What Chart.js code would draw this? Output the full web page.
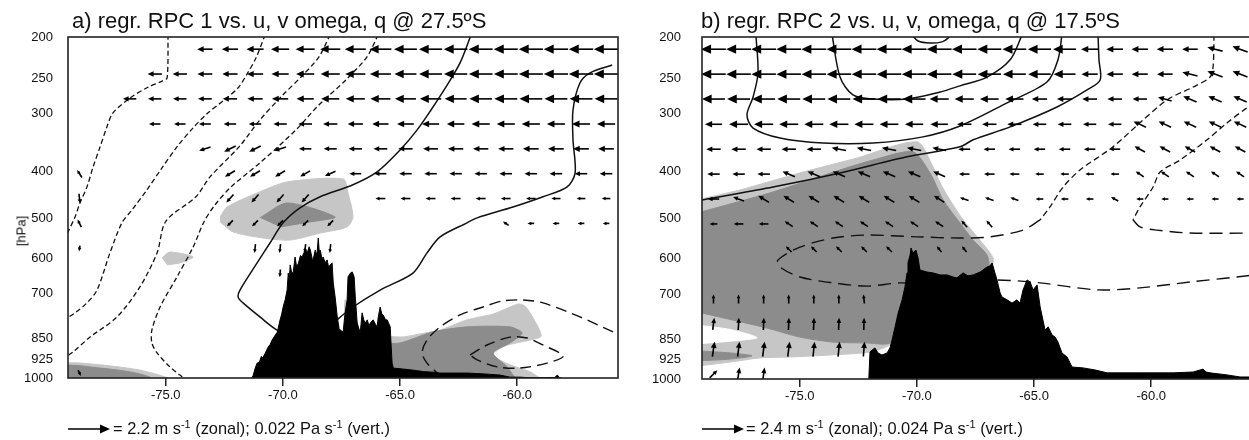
<!DOCTYPE html>
<html><head><meta charset="utf-8">
<script src="https://cdn.jsdelivr.net/npm/chart.js@4.4.1/dist/chart.umd.min.js"></script>
<style>
html,body{margin:0;padding:0;width:1249px;height:440px;overflow:hidden;background:#fff;}
canvas{position:absolute;top:0;}
.t{position:absolute;white-space:nowrap;color:#111;font-family:"Liberation Sans",Arial,sans-serif;}
.title{top:10px;font-size:22px;line-height:22px;}
.leg{top:420px;font-size:16.4px;line-height:16px;}
.sup{font-size:11px;position:relative;top:-6px;}
.hpa{font-size:13px;left:21px;top:231px;transform:translate(-50%,-50%) rotate(-90deg);}
</style></head><body>
<canvas id="ca" width="630" height="440" style="left:0px"></canvas>
<canvas id="cb" width="630" height="440" style="left:634px"></canvas>
<div class="t title" style="left:72px">a) regr. RPC 1 vs. u, v omega, q @ 27.5ºS</div>
<div class="t title" style="left:701px">b) regr. RPC 2 vs. u, v, omega, q @ 17.5ºS</div>
<div class="t hpa">[hPa]</div>
<div class="t leg" style="left:113px">= 2.2 m s<span class="sup">-1</span> (zonal); 0.022 Pa s<span class="sup">-1</span> (vert.)</div>
<div class="t leg" style="left:746px">= 2.4 m s<span class="sup">-1</span> (zonal); 0.024 Pa s<span class="sup">-1</span> (vert.)</div>
<script>
// ---------- axes ----------
const pLevels = [200,250,300,400,500,600,700,850,925,1000];
const lonTicks = [-75,-70,-65,-60];
const LON_MIN = -79.17, LON_MAX = -55.70;
function hFromP(p){ return 44.33*(1-Math.pow(p/1013.25,0.1903)); } // std-atmosphere height (km)

// ---------- vector grid (shared) ----------
const vecCols = [-78.68,-77.61,-76.54,-75.47,-74.40,-73.33,-72.26,-71.19,-70.12,-69.05,-67.98,-66.91,-65.84,-64.77,-63.70,-62.63,-61.56,-60.49,-59.42,-58.35,-57.28,-56.21];
const vecRowsKm = [11.36,10.51,9.66,8.80,7.95,7.10,6.25,5.40,4.54,3.69,2.84,1.99,1.13,0.28];
const N = null;

// panel a: zonal wind (m/s) and omega (Pa/s)
const uA = [
[N,N,N,N,N,-0.80,-0.85,-0.90,-0.95,-1.00,-1.05,-1.10,-1.15,-1.20,-1.22,-1.24,-1.25,-1.26,-1.27,-1.28,-1.28,-1.28],
[N,N,N,-0.75,-0.75,-0.78,-0.80,-0.85,-0.90,-0.95,-1.00,-1.05,-1.10,-1.15,-1.20,-1.22,-1.24,-1.25,-1.26,-1.27,-1.28,-1.28],
[N,N,-0.70,-0.70,-0.70,-0.72,-0.75,-0.80,-0.85,-0.90,-0.95,-1.00,-1.05,-1.10,-1.12,-1.15,-1.18,-1.20,-1.20,-1.20,-1.20,-1.20],
[N,N,N,-0.60,-0.60,-0.62,-0.65,-0.65,-0.70,-0.72,-0.75,-0.80,-0.85,-0.88,-0.90,-0.92,-0.95,-0.95,-0.95,-0.95,-0.95,-0.95],
[N,N,N,N,N,-0.60,-0.60,-0.60,-0.62,-0.65,-0.68,-0.70,-0.72,-0.75,-0.78,-0.80,-0.80,-0.80,-0.82,-0.82,-0.82,-0.82],
[-0.25,N,N,N,N,N,-0.52,-0.52,-0.52,-0.52,-0.55,-0.62,-0.63,-0.65,-0.65,-0.65,-0.65,-0.66,-0.66,-0.66,-0.66,-0.66],
[0.05,N,N,N,N,N,-0.37,-0.37,-0.37,-0.37,N,N,-0.52,-0.52,-0.52,-0.52,-0.52,-0.50,-0.50,-0.48,-0.46,-0.45],
[-0.20,N,N,N,N,N,-0.31,-0.31,-0.31,-0.31,-0.31,N,N,N,N,N,N,-0.30,-0.35,-0.35,-0.35,-0.35],
[-0.05,N,N,N,N,N,N,-0.05,-0.05,-0.05,-0.05,N,N,N,N,N,N,N,N,N,N,N],
[N,N,N,N,N,N,N,N,-0.03,N,N,N,N,N,N,N,N,N,N,N,N,N],
[N,N,N,N,N,N,N,N,N,N,N,N,N,N,N,N,N,N,N,N,N,N],
[N,N,N,N,N,N,N,N,N,N,N,N,N,N,N,N,N,N,N,N,N,N],
[N,N,N,N,N,N,N,N,N,N,N,N,N,N,N,N,N,N,N,N,N,N],
[0.15,N,N,N,N,N,N,N,N,N,N,N,N,N,N,N,N,N,N,N,N,N]];
const wA = [
[0,0,0,0,0,0,0,0,0,0,0,0,0,0,0,0,0,0,0,0,0,0],
[0,0,0,0,0,0,0,0,0,0,0,0,0,0,0,0,0,0,0,0,0,0],
[0,0,0,0,0,0,0,0,0,0,0,0,0,0,0,0,0,0,0,0,0,0],
[0,0,0,0,0,0,0,0,0,0,0,0,0,0,0,0,0,0,0,0,0,0],
[0,0,0,0,0,0.002,0.003,0.003,0.002,0,0,0,0,0,0,0,0,0,0,0,0,0],
[-0.004,0,0,0,0,0,0.0031,0.0031,0.0031,0.003,0.0025,0,0,0,0,0,0,0,0,0,0,0],
[0.005,0,0,0,0,0,0.0042,0.0042,0.0042,0.0042,0,0,0,0,0,0,0,0,0,0,0,0],
[-0.004,0,0,0,0,0,0.0031,0.0031,0.0031,0.0031,0.0031,0,0,0,0,0,0,-0.002,0,0,0,0],
[0.003,0,0,0,0,0,0,0.0047,0.0047,0.0047,0.0047,0,0,0,0,0,0,0,0,0,0,0],
[0,0,0,0,0,0,0,0,0.004,0,0,0,0,0,0,0,0,0,0,0,0,0],
[0,0,0,0,0,0,0,0,0,0,0,0,0,0,0,0,0,0,0,0,0,0],
[0,0,0,0,0,0,0,0,0,0,0,0,0,0,0,0,0,0,0,0,0,0],
[0,0,0,0,0,0,0,0,0,0,0,0,0,0,0,0,0,0,0,0,0,0],
[0.003,0,0,0,0,0,0,0,0,0,0,0,0,0,0,0,0,0,0,0,0,0]];

// panel b
const uB = [
[-1.42,-1.42,-1.42,-1.42,-1.42,-1.42,-1.42,-1.42,-1.42,-1.42,-1.40,-1.37,-1.36,-1.33,-1.31,-0.98,-0.96,-0.94,-0.93,-0.89,-0.87,-0.87],
[-1.40,-1.40,-1.40,-1.40,-1.40,-1.40,-1.40,-1.40,-1.40,-1.40,-1.36,-1.33,-1.31,-1.29,-1.25,-0.93,-0.93,-0.92,-0.89,-0.87,-0.87,-0.85],
[-1.31,-1.31,-1.31,-1.31,-1.31,-1.31,-1.31,-1.31,-1.31,-1.09,-1.09,-1.07,-1.04,-0.87,-0.87,-0.85,-0.83,-0.82,-0.78,-0.76,-0.76,-0.76],
[-0.98,-1.09,-1.09,-1.09,-1.09,-1.09,-1.09,-1.07,-1.04,-1.00,-0.82,-0.82,-0.81,-0.78,-0.78,-0.76,-0.76,-0.71,-0.71,-0.71,-0.71,-0.71],
[-0.82,-0.82,-0.82,-0.82,-0.82,-0.82,-0.82,-0.82,-0.82,-0.78,-0.68,-0.65,-0.65,-0.65,-0.65,-0.65,-0.63,-0.60,-0.60,-0.60,-0.60,-0.60],
[-0.71,-0.71,-0.71,-0.71,-0.71,-0.71,-0.71,-0.71,-0.71,-0.68,-0.60,-0.60,-0.57,-0.49,-0.49,-0.49,-0.49,-0.46,-0.46,-0.46,-0.46,-0.46],
[-0.65,-0.63,-0.61,-0.61,-0.61,-0.61,-0.61,-0.61,-0.61,-0.59,-0.49,-0.49,-0.46,-0.44,-0.44,-0.44,-0.41,-0.41,-0.41,-0.41,-0.41,-0.41],
[-0.44,-0.55,-0.55,-0.46,-0.46,-0.46,-0.46,-0.46,-0.46,-0.46,-0.33,-0.33,N,N,N,N,N,N,N,N,N,N],
[N,N,N,-0.33,-0.33,-0.33,-0.33,-0.33,N,-0.27,-0.27,N,N,N,N,N,N,N,N,N,N,N],
[N,N,N,N,N,N,N,N,N,N,N,N,N,N,N,N,N,N,N,N,N,N],
[0,0,0,0,0,0,-0.05,N,N,N,N,N,N,N,N,N,N,N,N,N,N,N],
[0.09,0.04,0.03,0.03,0.03,0.03,0.02,N,N,N,N,N,N,N,N,N,N,N,N,N,N,N],
[0.13,0.11,0.11,0.11,0.09,0.09,0.065,N,N,N,N,N,N,N,N,N,N,N,N,N,N,N],
[0.44,0.13,0.11,N,N,N,N,N,N,N,N,N,N,N,N,N,N,N,N,N,N,N]];
const wB = [
[0,0,0,0,0,0,0,0,0,0,0,0,0,0,0,0,0,0,0,0,-0.0022,-0.0033],
[0,0,0,0,0,0,0,0,0,0,0,0,0,0,0,0,0,0,0,-0.0022,-0.0033,-0.0033],
[0,0,0,0,0,0,0,0,0,0,0,0,0,0,0,0,0,0,-0.0022,-0.0033,-0.0033,-0.0033],
[0,0,0,0,0,0,0,0,0,0,0,0,0,0,0,0,0,-0.0033,-0.0033,-0.0033,-0.0033,-0.0033],
[0,0,0,0,0,-0.0016,-0.0016,-0.0016,-0.0016,-0.0016,0,0,0,0,0,0,0,-0.0033,-0.0033,-0.0033,-0.0033,-0.0033],
[0,0,0,-0.0031,-0.0031,-0.0031,-0.0031,-0.0031,-0.0031,-0.0031,0,0,0,0,0,0,0,-0.0031,-0.0031,-0.0031,-0.0031,-0.0031],
[0,-0.0022,-0.0038,-0.0038,-0.0038,-0.0038,-0.0038,-0.0038,-0.0038,-0.0038,-0.0016,-0.0016,-0.0016,0,0,0,-0.0022,0,0,0,0,0],
[0,0,0,-0.0031,-0.0031,-0.0031,-0.0031,-0.0031,-0.0031,-0.0031,-0.0038,-0.0038,0,0,0,0,0,0,0,0,0,0],
[0,0,0,-0.0033,-0.0033,-0.0033,-0.0033,-0.0033,0,-0.0033,-0.0033,0,0,0,0,0,0,0,0,0,0,0],
[0,0,0,0,0,0,0,0,0,0,0,0,0,0,0,0,0,0,0,0,0,0],
[-0.0052,-0.0052,-0.0052,-0.0052,-0.0052,-0.0052,-0.0052,0,0,0,0,0,0,0,0,0,0,0,0,0,0,0],
[-0.0069,-0.0069,-0.0069,-0.0069,-0.0069,-0.0069,-0.0069,0,0,0,0,0,0,0,0,0,0,0,0,0,0,0],
[-0.0085,-0.0085,-0.0085,-0.0085,-0.0085,-0.0085,-0.0085,0,0,0,0,0,0,0,0,0,0,0,0,0,0,0],
[-0.0044,-0.0074,-0.0074,0,0,0,0,0,0,0,0,0,0,0,0,0,0,0,0,0,0,0]];

// ---------- panel a: topography [lon, km] ----------
const topoA = [[-71.40,0.0],[-71.27,0.20],[-71.18,0.45],[-71.10,0.62],[-71.00,0.66],[-70.92,0.85],[-70.86,0.80],[-70.76,0.95],[-70.63,1.17],[-70.55,1.25],[-70.46,1.41],[-70.35,1.55],[-70.24,1.68],[-70.12,2.10],[-70.05,2.30],[-69.99,2.54],[-69.90,2.80],[-69.82,3.12],[-69.77,3.70],[-69.73,3.40],[-69.69,3.98],[-69.62,3.70],[-69.56,3.72],[-69.48,4.25],[-69.42,3.95],[-69.35,4.00],[-69.25,4.30],[-69.18,4.25],[-69.10,4.40],[-69.05,4.56],[-68.96,4.39],[-68.88,4.60],[-68.83,4.49],[-68.75,4.20],[-68.71,4.15],[-68.62,4.49],[-68.55,4.30],[-68.49,4.90],[-68.45,4.45],[-68.41,4.49],[-68.33,4.20],[-68.28,4.25],[-68.20,4.05],[-68.11,4.15],[-68.05,3.90],[-67.98,3.98],[-67.90,4.05],[-67.85,3.36],[-67.77,2.88],[-67.68,2.20],[-67.60,1.80],[-67.55,1.75],[-67.43,1.68],[-67.35,2.30],[-67.26,2.78],[-67.22,3.57],[-67.12,3.70],[-67.04,3.74],[-66.96,3.57],[-66.91,2.88],[-66.83,1.99],[-66.70,1.65],[-66.62,2.34],[-66.55,2.10],[-66.49,1.99],[-66.40,2.10],[-66.33,1.90],[-66.27,1.99],[-66.15,2.10],[-66.05,1.95],[-65.98,1.86],[-65.93,2.20],[-65.85,2.54],[-65.78,2.30],[-65.72,2.27],[-65.62,2.10],[-65.55,2.10],[-65.42,1.86],[-65.38,1.20],[-65.34,0.62],[-65.29,0.45],[-64.90,0.42],[-64.44,0.38],[-64.00,0.33],[-63.59,0.31],[-63.29,0.28],[-62.70,0.28],[-62.14,0.28],[-61.40,0.25],[-60.73,0.21],[-60.30,0.14],[-59.87,0.14],[-59.50,0.12],[-58.40,0.13],[-58.29,0.21],[-58.20,0.13],[-57.95,0.05]];

// panel a shading (regression significance)
const lightA1 = [[-72.68,5.62],[-72.38,5.96],[-71.10,6.44],[-69.82,6.82],[-67.43,6.92],[-67.22,6.44],[-67.01,5.62],[-67.26,5.28],[-68.41,5.07],[-69.69,4.83],[-70.85,4.90],[-72.13,5.11],[-72.68,5.45]];
const darkA1 = [[-70.98,5.59],[-69.82,6.10],[-67.77,5.62],[-68.84,5.45],[-70.12,5.28]];
const lightA2 = [[-75.16,4.22],[-74.82,4.42],[-73.83,4.25],[-74.39,4.05],[-74.94,3.98]];
const lightA3 = [[-79.34,-0.03],[-79.34,0.59],[-77.80,0.56],[-76.10,0.38],[-74.90,0.11],[-74.82,-0.03]];
const darkA2 = [[-79.34,-0.03],[-79.34,0.52],[-77.80,0.45],[-76.52,0.32],[-75.67,0.14],[-75.59,-0.03]];
const lightA4 = [[-67.35,0.04],[-67.35,2.78],[-67.05,2.10],[-66.71,1.69],[-65.00,1.51],[-64.15,1.62],[-63.29,1.75],[-62.14,2.10],[-61.03,2.30],[-59.96,2.64],[-59.67,2.57],[-59.32,2.16],[-58.98,1.55],[-59.45,1.41],[-60.52,1.21],[-61.03,0.90],[-60.31,0.56],[-59.45,0.32],[-58.90,0.04]];
const darkA3 = [[-67.35,0.04],[-67.13,1.41],[-65.85,1.31],[-65.00,1.31],[-63.59,1.69],[-62.14,1.86],[-60.31,1.86],[-59.79,1.65],[-60.31,1.31],[-61.03,0.97],[-60.43,0.49],[-60.18,0.21],[-60.00,0.04]];

// panel a contours
const dashA1 = [[-74.90,11.85],[-74.94,10.38],[-75.12,10.28],[-75.80,10.04],[-76.52,9.69],[-77.25,9.18],[-77.51,8.70],[-77.80,8.02],[-78.10,7.33],[-78.36,6.65],[-78.66,6.10],[-78.87,5.62],[-79.17,5.11],[-79.34,4.83]];
const dashA2 = [[-70.76,11.85],[-71.15,11.06],[-71.53,10.51],[-71.91,10.04],[-72.51,9.62],[-73.24,9.15],[-73.83,8.67],[-74.52,8.02],[-75.16,7.30],[-75.80,6.55],[-76.44,5.86],[-76.87,5.42],[-77.38,4.39],[-77.93,3.12],[-78.36,2.68],[-78.87,2.34],[-79.34,2.10]];
const dashA3 = [[-67.99,11.85],[-68.46,11.10],[-69.14,10.48],[-70.08,9.73],[-70.98,8.94],[-71.87,8.02],[-73.11,6.99],[-73.71,6.31],[-74.99,5.48],[-75.37,4.39],[-76.10,3.23],[-77.08,2.20],[-78.23,1.51],[-78.96,1.00],[-79.34,0.80]];
const dashA4 = [[-65.94,11.85],[-66.41,11.10],[-67.31,10.31],[-68.54,9.39],[-69.44,8.60],[-70.98,7.47],[-72.21,6.65],[-72.90,6.03],[-73.37,5.45],[-73.83,4.59],[-74.52,3.57],[-75.24,2.54],[-75.59,1.75],[-75.59,1.31],[-75.37,0.97],[-74.82,0.49],[-74.39,0.21],[-74.13,0.04]];
const solidA1 = [[-61.97,11.85],[-62.44,10.89],[-63.04,10.07],[-63.68,9.28],[-64.27,8.60],[-65.00,7.91],[-65.98,7.16],[-67.01,6.72],[-68.41,6.31],[-69.27,5.93],[-69.99,5.42],[-70.55,4.73],[-71.10,4.05],[-71.83,3.12],[-71.91,2.88],[-71.70,2.68],[-70.98,2.20],[-70.25,1.75],[-69.27,1.41],[-68.41,1.58],[-67.69,2.10],[-67.01,2.54],[-65.85,3.12],[-64.45,3.70],[-63.85,4.39],[-63.29,4.94],[-62.14,5.42],[-61.71,5.59],[-60.18,5.96],[-58.90,6.31],[-57.87,6.65],[-57.53,7.13],[-57.62,8.26],[-57.62,9.28],[-57.32,10.21],[-56.89,10.55],[-55.95,10.82]];
const longA1 = [[-55.91,1.69],[-57.32,2.20],[-58.90,2.68],[-59.75,2.78],[-60.60,2.75],[-61.46,2.54],[-62.44,2.27],[-63.29,1.86],[-63.85,1.41],[-64.06,0.97],[-63.85,0.62],[-63.42,0.28],[-63.21,0.04]];
const longA2 = [[-62.01,0.90],[-61.29,1.24],[-60.31,1.51],[-59.58,1.48],[-58.90,1.24],[-58.04,0.86],[-58.73,0.62],[-59.88,0.45],[-60.86,0.49],[-61.71,0.73],[-62.01,0.90]];

// ---------- panel b ----------
const topoB = [[-72.06,0.0],[-72.00,1.03],[-71.91,1.10],[-71.79,1.17],[-71.66,1.00],[-71.49,0.93],[-71.27,1.00],[-71.15,1.17],[-71.06,1.44],[-70.93,1.89],[-70.80,2.36],[-70.63,2.81],[-70.51,3.25],[-70.42,3.73],[-70.38,4.07],[-70.29,4.34],[-70.25,4.58],[-70.17,4.41],[-70.04,4.51],[-69.95,4.24],[-69.87,3.83],[-69.57,3.76],[-69.31,3.73],[-69.01,3.66],[-68.71,3.66],[-68.46,3.59],[-68.29,3.56],[-68.03,3.73],[-67.82,3.63],[-67.60,3.66],[-67.30,3.76],[-67.01,3.93],[-66.88,3.97],[-66.79,4.07],[-66.67,3.73],[-66.58,3.49],[-66.45,3.05],[-66.37,2.91],[-66.15,2.81],[-65.94,2.70],[-65.73,2.81],[-65.60,2.70],[-65.47,3.15],[-65.30,3.49],[-65.17,3.42],[-65.04,3.15],[-64.87,3.32],[-64.74,2.57],[-64.53,1.78],[-64.40,1.89],[-64.23,1.61],[-64.10,1.54],[-63.98,1.37],[-63.81,1.00],[-63.59,0.86],[-63.38,0.52],[-62.91,0.49],[-62.40,0.42],[-61.88,0.32],[-60.48,0.32],[-59.07,0.32],[-58.21,0.35],[-57.91,0.42],[-57.79,0.45],[-57.66,0.35],[-57.49,0.32],[-56.76,0.25],[-56.21,0.18],[-55.57,0.18]];
const lightB1 = [[-79.38,6.22],[-77.55,6.56],[-74.99,7.14],[-72.55,7.65],[-69.99,8.20],[-69.31,7.34],[-69.01,6.80],[-68.59,6.22],[-68.03,5.54],[-67.43,4.96],[-66.75,4.24],[-66.88,3.83],[-68.16,2.81],[-71.15,1.27],[-72.00,1.03],[-73.71,0.93],[-75.41,0.86],[-76.69,0.83],[-77.97,0.69],[-79.38,0.55]];
const darkB1 = [[-79.38,5.77],[-76.14,6.49],[-73.28,7.24],[-71.87,7.58],[-70.17,7.86],[-69.44,7.14],[-68.88,6.22],[-68.16,5.43],[-67.60,4.85],[-67.01,4.34],[-66.96,3.90],[-68.59,2.81],[-71.15,1.34],[-72.13,1.34],[-73.58,1.37],[-74.99,1.54],[-76.40,1.85],[-77.85,2.12],[-79.38,2.40]];
const whiteB1 = [[-79.38,1.95],[-77.97,1.80],[-76.82,1.52],[-77.97,1.40],[-79.38,1.31]];
const darkB2 = [[-79.38,1.07],[-77.97,1.00],[-77.04,0.90],[-77.97,0.79],[-79.38,0.73]];

const solidB1 = [[-79.38,6.18],[-78.96,6.25],[-76.14,6.66],[-73.28,7.14],[-70.42,7.69],[-68.16,8.03],[-67.60,8.27],[-66.02,8.71],[-64.02,9.39],[-62.74,9.97],[-62.18,10.31],[-62.23,11.00],[-62.27,11.85]];
const solidB2 = [[-76.87,11.85],[-76.78,10.55],[-76.99,9.73],[-77.25,9.12],[-76.99,8.67],[-75.84,8.33],[-74.01,8.16],[-71.87,8.16],[-69.74,8.37],[-68.16,8.74],[-66.15,9.53],[-64.45,10.24],[-63.98,11.00],[-63.81,11.85]];
const solidB3 = [[-73.62,11.85],[-73.28,10.41],[-72.73,9.80],[-71.87,9.66],[-70.42,9.66],[-69.01,9.90],[-68.16,10.11],[-67.01,10.41],[-66.02,11.00],[-65.51,11.85]];
const solidB4 = [[-70.21,11.85],[-69.95,11.64],[-69.44,11.57],[-68.93,11.61],[-68.67,11.74],[-68.59,11.85]];
const shortB1 = [[-57.32,11.85],[-57.36,10.76],[-57.49,10.41],[-58.21,10.07],[-59.33,9.63],[-60.48,8.85],[-61.63,8.03],[-63.04,7.24],[-63.76,6.66],[-64.32,5.98],[-64.74,5.54]];
const longB1 = [[-64.74,5.54],[-65.47,5.19],[-66.88,4.96],[-68.16,4.92],[-69.99,4.96],[-72.13,5.02],[-73.58,4.92],[-74.99,4.61],[-75.93,4.17],[-75.84,3.93],[-74.99,3.59],[-73.58,3.39],[-72.13,3.28],[-70.72,3.39],[-69.44,3.35],[-67.73,3.42],[-66.58,3.49],[-64.74,3.39],[-62.31,3.15],[-60.48,3.22],[-58.34,3.42],[-55.57,3.66]];
const shortB2 = [[-55.57,9.50],[-55.91,9.36],[-56.76,8.85],[-57.62,8.27],[-58.77,7.58],[-59.62,7.17],[-59.92,6.66],[-60.48,5.98],[-60.78,5.54]];
const longB2 = [[-60.78,5.54],[-60.48,5.30],[-59.75,5.19],[-58.34,5.09],[-55.57,5.09]];

// ---------- styles ----------
const LIGHT = '#c6c6c6', DARK = '#8c8c8c', INK = '#111';
const REF_PX = 42;
const FONT = '"Liberation Sans", Arial, sans-serif';

function pts(a){ return a.map(([x,y])=>({x,y})); }
function line(a, o){ return Object.assign({data:pts(a), showLine:true, pointRadius:0, pointHoverRadius:0, borderColor:INK, borderWidth:1.5, fill:false, tension:0.3, order:2}, o); }
function area(a, color, order){ return line(a, {backgroundColor:color, borderColor:color, borderWidth:1, fill:'shape', tension:0.25, order}); }
function topo(a){ return line(a, {backgroundColor:'#000', borderColor:'#000', borderWidth:1, fill:'start', tension:0, order:1}); }

function drawArrow(ctx, x, y, dx, dy){
  const L = Math.hypot(dx, dy);
  if (L < 0.5) return;
  const ux = dx/L, uy = dy/L;
  const hl = Math.max(3.8, Math.min(10, 0.42*L)), hw = hl*0.46;
  const x0 = x-dx/2, y0 = y-dy/2, x1 = x+dx/2, y1 = y+dy/2;
  const bx = x1-ux*hl, by = y1-uy*hl;
  ctx.beginPath(); ctx.moveTo(x0,y0); ctx.lineTo(bx+ux*1,by+uy*1); ctx.stroke();
  ctx.beginPath(); ctx.moveTo(x1,y1); ctx.lineTo(bx-uy*hw, by+ux*hw); ctx.lineTo(bx+uy*hw, by-ux*hw); ctx.closePath(); ctx.fill();
}

const vectorPlugin = {
  id:'vectors',
  afterDatasetsDraw(chart, args, o){
    const {ctx, chartArea:a, scales:{x, y}} = chart;
    ctx.save();
    ctx.beginPath(); ctx.rect(a.left, a.top, a.right-a.left, a.bottom-a.top); ctx.clip();
    ctx.strokeStyle = '#000'; ctx.fillStyle = '#000'; ctx.lineWidth = 1.6;
    o.u.forEach((row, r) => row.forEach((u, c) => {
      if (u === null) return;
      const w = o.w[r][c];
      drawArrow(ctx, x.getPixelForValue(o.cols[c]), y.getPixelForValue(o.rows[r]), u/o.refU*REF_PX, w/o.refW*REF_PX);
    }));
    ctx.restore();
  },
  afterDraw(chart, args, o){
    const {ctx, chartArea:a} = chart;
    ctx.save();
    ctx.strokeStyle = '#222'; ctx.lineWidth = 1.6;
    ctx.strokeRect(a.left, a.top, a.right-a.left, a.bottom-a.top);
    ctx.strokeStyle = '#000'; ctx.fillStyle = '#000'; ctx.lineWidth = 1.5;
    drawArrow(ctx, a.left + REF_PX/2, o.legendY, o.refU/o.refU*REF_PX, 0);
    ctx.restore();
  }
};

function makeChart(id, datasets, vec, yPad, bottomPad){
  return new Chart(document.getElementById(id), {
    type:'scatter',
    data:{datasets},
    options:{
      responsive:false, animation:false, events:[], devicePixelRatio:1,
      layout:{padding:{top:37, left:0, right:12, bottom:bottomPad}},
      plugins:{legend:{display:false}, tooltip:{enabled:false}, vectors:vec},
      scales:{
        x:{type:'linear', min:LON_MIN, max:LON_MAX,
           afterFit:s=>{s.height=30;},
           afterBuildTicks:s=>{s.ticks = lonTicks.map(v=>({value:v}));},
           ticks:{callback:v=>Number(v).toFixed(1), font:{family:FONT, size:13}, color:INK, padding:2, autoSkip:false, maxRotation:0},
           grid:{display:true, drawOnChartArea:false, drawTicks:true, tickLength:8, color:'#222', lineWidth:1.5},
           border:{display:false}},
        y:{type:'linear', min:hFromP(1000), max:hFromP(200),
           afterFit:s=>{s.width=68;},
           afterBuildTicks:s=>{s.ticks = pLevels.map(p=>({value:hFromP(p)}));},
           ticks:{callback:(v,i)=>String(pLevels[i]), font:{family:FONT, size:13}, color:INK, padding:yPad, autoSkip:false},
           grid:{display:false}, border:{display:false}}
      }
    },
    plugins:[vectorPlugin]
  });
}

const dsA = [
  topo(topoA),
  line(dashA1,{borderDash:[5,3], borderWidth:1.3}),
  line(dashA2,{borderDash:[5,3], borderWidth:1.3}),
  line(dashA3,{borderDash:[5,3], borderWidth:1.3}),
  line(dashA4,{borderDash:[5,3], borderWidth:1.3}),
  line(solidA1,{}),
  line(longA1,{borderDash:[11,6], borderWidth:1.4}),
  line(longA2,{borderDash:[11,6], borderWidth:1.4}),
  area(darkA1, DARK, 4), area(darkA2, DARK, 4), area(darkA3, DARK, 4),
  area(lightA1, LIGHT, 5), area(lightA2, LIGHT, 5), area(lightA3, LIGHT, 5), area(lightA4, LIGHT, 5)
];
const dsB = [
  topo(topoB),
  line(solidB1,{}), line(solidB2,{}), line(solidB3,{}), line(solidB4,{}),
  line(shortB1,{borderDash:[6,3.5], borderWidth:1.3}),
  line(shortB2,{borderDash:[6,3.5], borderWidth:1.3}),
  line(longB1,{borderDash:[13,7], borderWidth:1.4}),
  line(longB2,{borderDash:[13,7], borderWidth:1.4}),
  area(whiteB1, '#ffffff', 3),
  area(darkB1, DARK, 4), area(darkB2, DARK, 4),
  area(lightB1, LIGHT, 5)
];

makeChart('ca', dsA, {cols:vecCols, rows:vecRowsKm, u:uA, w:wA, refU:2.2, refW:0.022, legendY:429}, 7, 32);
makeChart('cb', dsB, {cols:vecCols, rows:vecRowsKm, u:uB, w:wB, refU:2.4, refW:0.024, legendY:429}, 13, 31);
</script>
</body></html>
